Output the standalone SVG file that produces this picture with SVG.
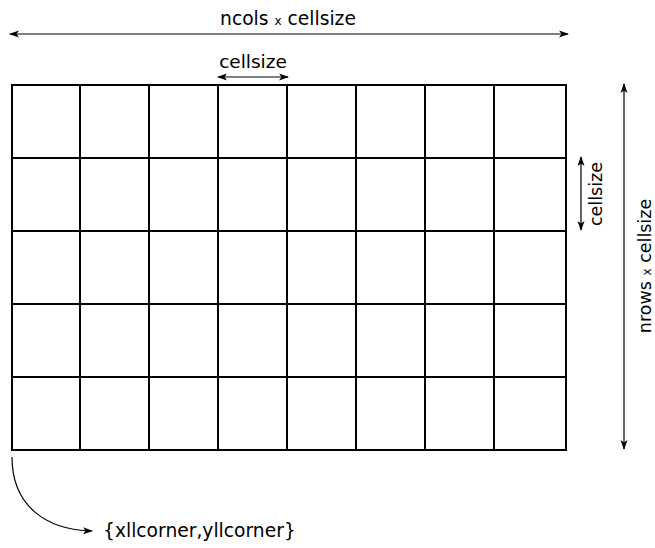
<svg xmlns="http://www.w3.org/2000/svg" width="655" height="548" viewBox="0 0 655 548">
<style>
.g{fill:none;stroke:#000;stroke-width:2}
.c{fill:none;stroke:#000;stroke-width:1.2}
text{font-family:"DejaVu Sans",sans-serif;font-size:18.7px;fill:#000}
.s{font-size:12px}
</style>
<defs>
<marker id="ah" viewBox="0 0 10 10" refX="9" refY="5" markerWidth="10" markerHeight="10" markerUnits="userSpaceOnUse" orient="auto-start-reverse">
<path d="M0,1.5 L10,5 L0,8.5 L2.5,5 Z" fill="#000"/>
</marker>
</defs>
<rect width="655" height="548" fill="#fff"/>
<g id="grid">
<rect class="g" x="12" y="85" width="554" height="365"/>
<path class="g" d="M80,85V450M149,85V450M218,85V450M287,85V450M356,85V450M425,85V450M494,85V450M12,158H566M12,231H566M12,304H566M12,377H566"/>
</g>
<g id="connectors">
<line class="c" x1="10" y1="34" x2="568" y2="34" marker-start="url(#ah)" marker-end="url(#ah)"/>
<line class="c" x1="218" y1="77" x2="288" y2="77" marker-start="url(#ah)" marker-end="url(#ah)"/>
<line class="c" x1="581" y1="157" x2="581" y2="230" marker-start="url(#ah)" marker-end="url(#ah)"/>
<line class="c" x1="624" y1="84" x2="624" y2="449" marker-start="url(#ah)" marker-end="url(#ah)"/>
<path class="c" d="M12,457 C12,505 45,530 92,531" marker-end="url(#ah)"/>
</g>
<g id="labels">
<text x="288" y="25" text-anchor="middle">ncols <tspan class="s">x</tspan> cellsize</text>
<text x="253" y="68" text-anchor="middle" style="font-size:18.5px">cellsize</text>
<text transform="translate(602,194) rotate(-90)" text-anchor="middle" style="font-size:17.5px">cellsize</text>
<text transform="translate(651,266) rotate(-90)" text-anchor="middle" style="font-size:17.5px">nrows <tspan class="s">x</tspan> cellsize</text>
<text x="103" y="537">{xllcorner,yllcorner}</text>
</g>
</svg>
